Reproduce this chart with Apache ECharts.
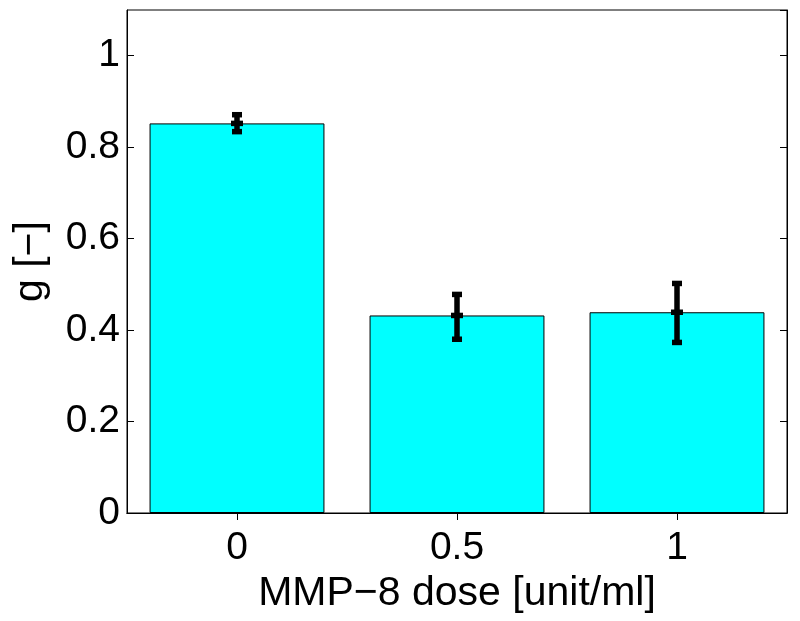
<!DOCTYPE html>
<html><head><meta charset="utf-8">
<script src="https://cdn.jsdelivr.net/npm/echarts@6/dist/echarts.min.js"></script>
<style>html,body{margin:0;padding:0;background:#fff}#c{width:800px;height:621px}</style>
</head><body><div id="c"></div>
<script>
const categories = ['0', '0.5', '1'];
const means = [0.852, 0.432, 0.439];
const errLow = [0.834, 0.380, 0.373];
const errHigh = [0.871, 0.478, 0.502];
const yTicks = [0, 0.2, 0.4, 0.6, 0.8, 1];

const font = 'Liberation Sans, Arial, Helvetica, sans-serif';
const chart = echarts.init(document.getElementById('c'));
const errData = categories.map((c, i) => [i, errLow[i], errHigh[i], means[i]]);

chart.setOption({
  animation: false,
  grid: { left: 127, right: 13, top: 10, bottom: 108, show: true, borderColor: '#000', borderWidth: 1 },
  xAxis: [{
    type: 'category', data: categories, boundaryGap: true,
    axisLine: { show: true, lineStyle: { color: '#000' } },
    axisTick: { show: true, inside: true, alignWithLabel: true, length: 7, lineStyle: { color: '#000' } },
    axisLabel: { color: '#000', fontSize: 39, fontFamily: font, margin: 16 },
    name: 'MMP\u22128 dose [unit/ml]', nameLocation: 'middle', nameGap: 47,
    nameTextStyle: { color: '#000', fontSize: 41, fontFamily: font }
  }, {
    type: 'category', data: categories, position: 'top', boundaryGap: true,
    axisLine: { show: true, lineStyle: { color: '#000' } },
    axisTick: { show: true, inside: true, alignWithLabel: true, length: 7, lineStyle: { color: '#000' } },
    axisLabel: { show: false }
  }],
  yAxis: [{
    type: 'value', min: 0, max: 1.1, interval: 0.2,
    axisLine: { show: true, lineStyle: { color: '#000' } },
    axisTick: { show: true, inside: true, length: 7, lineStyle: { color: '#000' } },
    splitLine: { show: false },
    axisLabel: { color: '#000', fontSize: 39, fontFamily: font, margin: 7, showMaxLabel: false,
      formatter: v => (yTicks.some(t => Math.abs(t - v) < 1e-9) ? String(+v.toFixed(1)) : '') },
    name: 'g [\u2212]', nameLocation: 'middle', nameGap: 76,
    nameTextStyle: { color: '#000', fontSize: 41, fontFamily: font }
  }, {
    type: 'value', min: 0, max: 1.1, interval: 0.2, position: 'right',
    axisLine: { show: true, lineStyle: { color: '#000' } },
    axisTick: { show: true, inside: true, length: 7, lineStyle: { color: '#000' } },
    splitLine: { show: false }, axisLabel: { show: false }
  }],
  series: [{
    type: 'bar', data: means, barWidth: '79.5%',
    itemStyle: { color: '#00FFFF', borderColor: '#000', borderWidth: 1 }
  }, {
    type: 'custom', data: errData, z: 10,
    renderItem: function (params, api) {
      const x = api.value(0);
      const lo = api.coord([x, api.value(1)]);
      const hi = api.coord([x, api.value(2)]);
      const mid = api.coord([x, api.value(3)]);
      const cx = lo[0];
      const hw = 5;
      const st = { stroke: '#000', lineWidth: 5.5 };
      return { type: 'group', children: [
        { type: 'line', shape: { x1: cx, y1: lo[1], x2: cx, y2: hi[1] }, style: st },
        { type: 'line', shape: { x1: cx - hw, y1: lo[1], x2: cx + hw, y2: lo[1] }, style: st },
        { type: 'line', shape: { x1: cx - hw, y1: hi[1], x2: cx + hw, y2: hi[1] }, style: st },
        { type: 'line', shape: { x1: cx - 6, y1: mid[1], x2: cx + 6, y2: mid[1] }, style: st }
      ] };
    }
  }]
});
</script></body></html>
